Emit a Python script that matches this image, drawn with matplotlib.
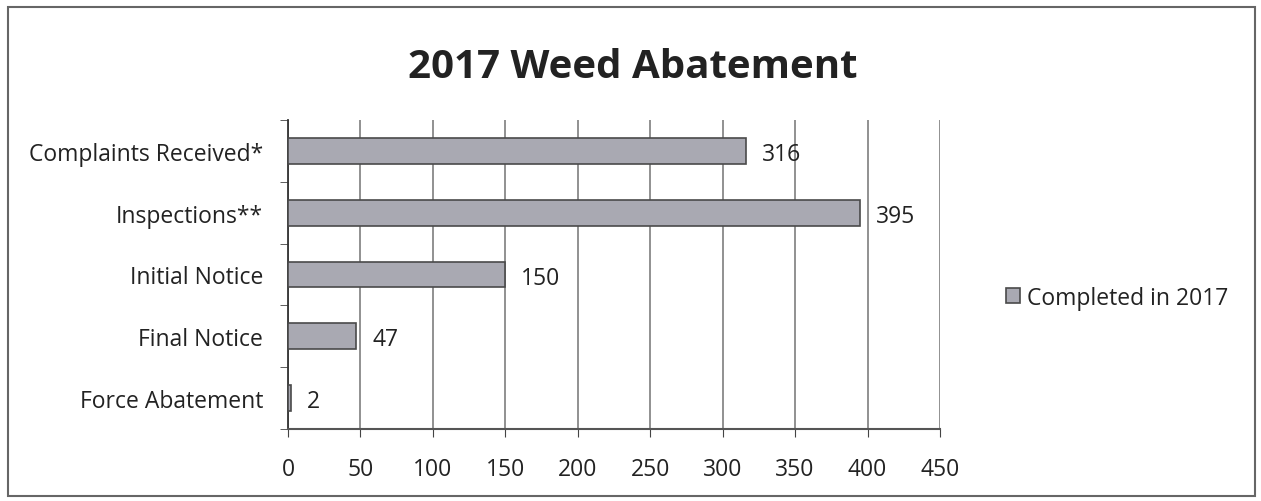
import numpy as np
import matplotlib.pyplot as plt
from matplotlib.patches import Rectangle

categories = ["Complaints Received*", "Inspections**", "Initial Notice", "Final Notice", "Force Abatement"]
values = [316, 395, 150, 47, 2]
series_name = "Completed in 2017"
x_ticks = [0, 50, 100, 150, 200, 250, 300, 350, 400, 450]

plt.rcParams['font.family'] = ['Open Sans', 'DejaVu Sans']
fs = 16.5

fig = plt.figure(figsize=(12.61, 5.02), dpi=100)
ax = fig.add_axes([0.2284, 0.1434, 0.7454 - 0.2284, 0.759 - 0.1434])

y = np.arange(len(categories))
bars = ax.barh(y, values, height=0.42, color='#a9a9b2', edgecolor='#4a4a4a',
               linewidth=1.2, label=series_name, zorder=3)

for yi, v in zip(y, values):
    ax.text(v + 11, yi + 0.05, str(v), va='center', ha='left', fontsize=fs, color='#222222')

ax.set_xlim(0, 450)
ax.set_ylim(4.5, -0.5)
ax.set_xticks(x_ticks)
ax.set_xticklabels([str(t) for t in x_ticks], fontsize=fs, color='#222222')
ax.set_yticks(y)
ax.set_yticklabels(categories, fontsize=fs, color='#222222')
ax.set_yticks(np.arange(-0.5, 5, 1), minor=True)
ax.tick_params(axis='y', which='major', length=0, pad=18)
ax.tick_params(axis='y', which='minor', length=6, color='#444444')
ax.tick_params(axis='x', length=6, color='#444444', pad=14)
ax.grid(axis='x', color='#888888', linewidth=1.3, zorder=0)

for s in ['top', 'right']:
    ax.spines[s].set_visible(False)
ax.spines['left'].set_color('#333333')
ax.spines['left'].set_linewidth(1.3)
ax.spines['bottom'].set_color('#555555')
ax.spines['bottom'].set_linewidth(1.5)

fig.text(0.502, 0.865, "2017 Weed Abatement", ha='center', va='center',
         fontsize=29, fontweight='bold', color='#222222')

leg = ax.legend(loc='center left', bbox_to_anchor=(1.07, 0.425), frameon=False,
                fontsize=fs, handlelength=0.6, handleheight=0.6, handletextpad=0.3)
for t in leg.get_texts():
    t.set_color('#222222')

fig.patches.append(Rectangle((0.006, 0.01), 0.989, 0.975, transform=fig.transFigure,
                             fill=False, edgecolor='#666666', linewidth=1.5))

fig.savefig("out.png", dpi=100)
